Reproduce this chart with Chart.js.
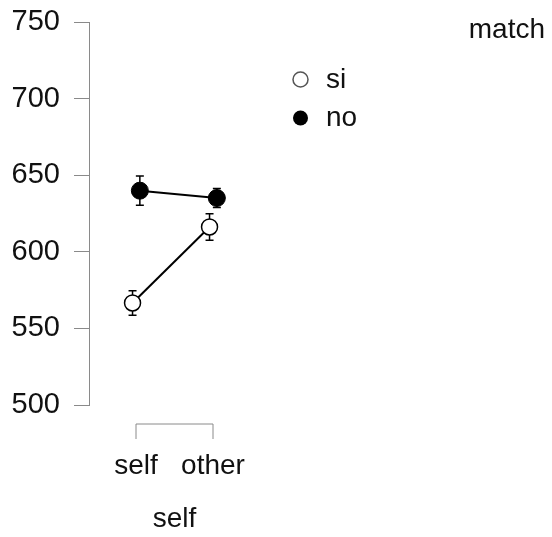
<!DOCTYPE html>
<html>
<head>
    <title>match x self</title>
    <style>
        body { margin: 0; background: #fff; }
        #chartBox { width: 552px; height: 537px; }
    </style>
    <script src="https://cdn.jsdelivr.net/npm/chart.js"></script>
</head>
<body>
<div id="chartBox"><canvas id="matchChart"></canvas></div>
<script>
    const categories = ['self', 'other'];
    const xTitle = 'self';
    const legendTitle = 'match';
    const legendLabels = ['si', 'no'];
    const siMeans = [566.6, 616.2];
    const siErrors = [8, 8.7];
    const noMeans = [639.9, 635.1];
    const noErrors = [9.5, 6.2];
    const yTicks = [500, 550, 600, 650, 700, 750];

    const FONT = '"Liberation Sans", Arial, sans-serif';
    const TEXT = '#111';
    const AXIS = '#8a8a8a';

    // small horizontal dodge so the two groups don't sit on top of each other
    const dodge = { si: -0.045, no: 0.05 };

    function toPoints(means, shift) {
        return means.map((m, i) => ({ x: i + 1 + shift, y: m }));
    }

    const errorBars = {
        id: 'errorBars',
        beforeDatasetsDraw(chart) {
            const ctx = chart.ctx;
            const xs = chart.scales.x, ys = chart.scales.y;
            const groups = [[siMeans, siErrors, dodge.si], [noMeans, noErrors, dodge.no]];
            ctx.save();
            ctx.strokeStyle = '#000';
            ctx.lineWidth = 1.5;
            groups.forEach(([means, errs, shift]) => {
                means.forEach((m, i) => {
                    const px = xs.getPixelForValue(i + 1 + shift);
                    const top = ys.getPixelForValue(m + errs[i]);
                    const bot = ys.getPixelForValue(m - errs[i]);
                    ctx.beginPath();
                    ctx.moveTo(px, top); ctx.lineTo(px, bot);
                    ctx.moveTo(px - 4, top); ctx.lineTo(px + 4, top);
                    ctx.moveTo(px - 4, bot); ctx.lineTo(px + 4, bot);
                    ctx.stroke();
                });
            });
            ctx.restore();
        }
    };

    const decorations = {
        id: 'decorations',
        afterDraw(chart) {
            const ctx = chart.ctx;
            const xs = chart.scales.x;
            const x1 = xs.getPixelForValue(1), x2 = xs.getPixelForValue(categories.length);
            const base = chart.chartArea.bottom + 19;
            ctx.save();
            // x axis bracket, R style
            ctx.strokeStyle = AXIS;
            ctx.lineWidth = 1;
            ctx.beginPath();
            ctx.moveTo(x1, base + 15); ctx.lineTo(x1, base);
            ctx.lineTo(x2, base); ctx.lineTo(x2, base + 15);
            ctx.stroke();

            ctx.fillStyle = TEXT;
            ctx.font = '28px ' + FONT;
            ctx.textAlign = 'center';
            ctx.textBaseline = 'middle';
            categories.forEach((c, i) => {
                ctx.fillText(c, xs.getPixelForValue(i + 1), base + 42);
            });
            ctx.fillText(xTitle, (x1 + x2) / 2, base + 95);

            // legend
            ctx.textAlign = 'right';
            ctx.textBaseline = 'alphabetic';
            ctx.fillText(legendTitle, 545, 38);
            ctx.textAlign = 'left';
            legendLabels.forEach((lab, i) => {
                const cy = 79.5 + i * 38.5;
                ctx.beginPath();
                ctx.arc(300.5, cy, 7.5, 0, Math.PI * 2);
                if (i === 0) {
                    ctx.fillStyle = '#fff';
                    ctx.fill();
                    ctx.strokeStyle = '#555';
                    ctx.lineWidth = 1.5;
                    ctx.stroke();
                } else {
                    ctx.fillStyle = '#000';
                    ctx.fill();
                }
                ctx.fillStyle = TEXT;
                ctx.fillText(lab, 326, cy + 8);
            });
            ctx.restore();
        }
    };

    new Chart(document.getElementById('matchChart'), {
        type: 'line',
        data: {
            datasets: [
                {
                    label: legendLabels[0],
                    data: toPoints(siMeans, dodge.si),
                    borderColor: '#000',
                    borderWidth: 2,
                    pointBackgroundColor: '#fff',
                    pointBorderColor: '#000',
                    pointBorderWidth: 1.5,
                    pointRadius: 8
                },
                {
                    label: legendLabels[1],
                    data: toPoints(noMeans, dodge.no),
                    borderColor: '#000',
                    borderWidth: 2,
                    pointBackgroundColor: '#000',
                    pointBorderColor: '#000',
                    pointBorderWidth: 1,
                    pointRadius: 8.5
                }
            ]
        },
        options: {
            responsive: true,
            maintainAspectRatio: false,
            animation: false,
            layout: { padding: { top: 22, right: 0, bottom: 0, left: 0 } },
            plugins: {
                legend: { display: false },
                tooltip: { enabled: false }
            },
            scales: {
                x: {
                    type: 'linear',
                    min: 0.3896,
                    max: 6.2792,
                    ticks: { display: false },
                    grid: { display: false },
                    border: { display: false },
                    afterFit(scale) { scale.height = 132; }
                },
                y: {
                    type: 'linear',
                    min: 500,
                    max: 750,
                    afterBuildTicks(scale) { scale.ticks = yTicks.map(v => ({ value: v })); },
                    afterFit(scale) {
                        scale.width = 89;
                        scale.paddingTop = 0;
                        scale.paddingBottom = 0;
                    },
                    ticks: {
                        color: TEXT,
                        padding: 14,
                        font: { family: FONT, size: 29 }
                    },
                    grid: {
                        drawOnChartArea: false,
                        drawTicks: true,
                        tickLength: 15,
                        color: AXIS
                    },
                    border: { display: true, color: AXIS, width: 1 }
                }
            }
        },
        plugins: [errorBars, decorations]
    });
</script>
</body>
</html>
